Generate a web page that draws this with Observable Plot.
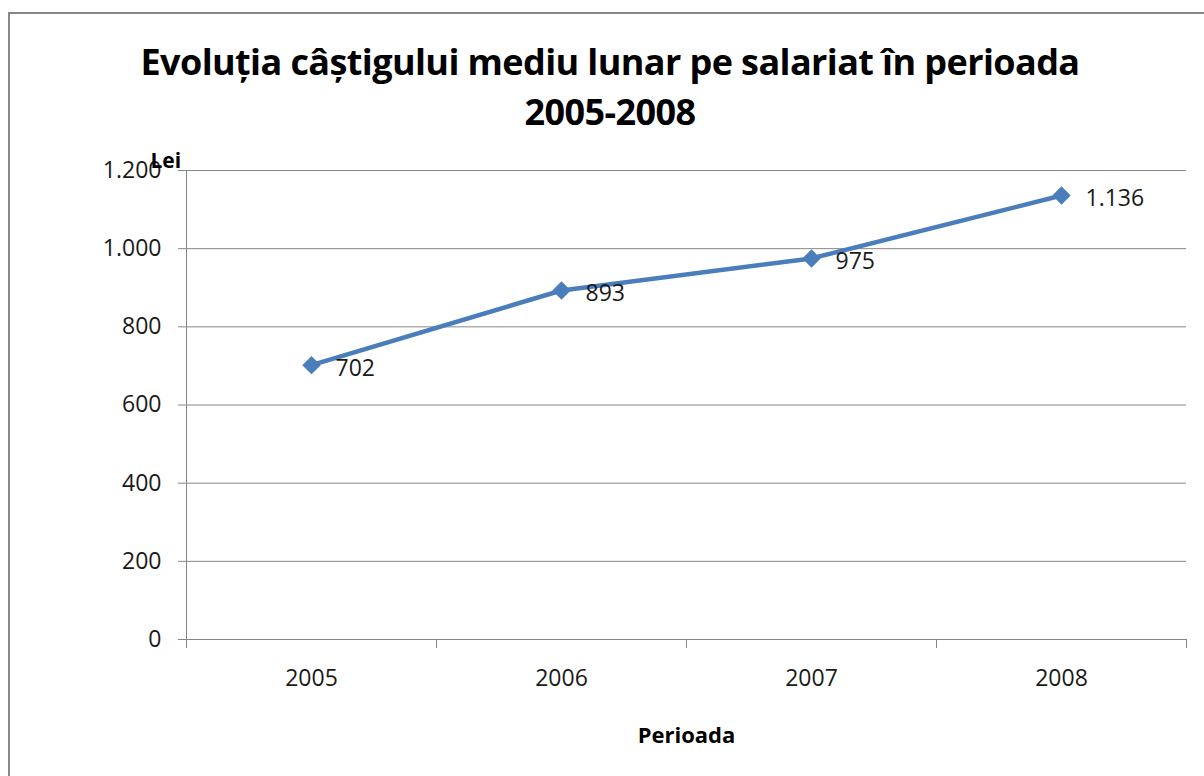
<!DOCTYPE html>
<html>
<head>
<meta charset="utf-8">
<script src="https://cdn.jsdelivr.net/npm/d3@7"></script>
<script src="https://cdn.jsdelivr.net/npm/@observablehq/plot@0.6"></script>
<style>
  html, body { margin: 0; padding: 0; background: #fff; overflow: hidden; }
  #wrap { position: relative; width: 1204px; height: 776px; font-family: "Open Sans", sans-serif; }
  #frame { position: absolute; left: 8px; top: 12px; width: 1220px; height: 800px; border: 2px solid #878787; box-sizing: border-box; }
  #title { position: absolute; left: 0; top: 0; width: 1220px; text-align: center; font-weight: 700; font-size: 36px; line-height: 50px; color: #000; padding-top: 37px; letter-spacing: -0.6px; }
  #chart { position: absolute; left: 0; top: 140px; }
</style>
</head>
<body>
<div id="wrap">
  <div id="frame"></div>
  <div id="title"><span id="t1">Evoluția câștigului mediu lunar pe salariat în perioada</span><br><span>2005-2008</span></div>
  <div id="chart"></div>
</div>
<script>
const years = ["2005", "2006", "2007", "2008"];
const values = [702, 893, 975, 1136];
const yTicks = [0, 200, 400, 600, 800, 1000, 1200];
const yLabel = "Lei";
const xLabel = "Perioada";

const data = years.map((y, i) => ({year: +y, value: values[i]}));
const fmt = d3.formatLocale({thousands: ".", grouping: [3], decimal: ","}).format(",");
const bounds = [2004.5, 2005.5, 2006.5, 2007.5, 2008.5];

const chart = Plot.plot({
  width: 1204,
  height: 636,
  marginLeft: 186,
  marginRight: 18,
  marginTop: 30,
  marginBottom: 137,
  style: {fontFamily: "Open Sans, sans-serif", fontSize: "23px", color: "#1a1a1a", background: "transparent", overflow: "visible"},
  x: {domain: [2004.5, 2008.5]},
  y: {domain: [0, 1200]},
  marks: [
    Plot.gridY(yTicks, {stroke: "#868686", strokeOpacity: 1, strokeWidth: 1}),
    Plot.ruleX([2004.5], {y1: 0, y2: 1200, stroke: "#868686"}),
    Plot.axisY(yTicks, {tickSize: 8, tickPadding: 17, tickFormat: fmt, stroke: "#868686", label: null, fontSize: 23, fill: "#1a1a1a"}),
    Plot.axisX(bounds, {tickSize: 9, tickFormat: () => "", stroke: "#868686", label: null}),
    Plot.axisX(years.map(Number), {tickSize: 0, tickPadding: 30, tickFormat: d => String(d), label: null, fontSize: 23, fill: "#1a1a1a"}),
    Plot.text([xLabel], {frameAnchor: "bottom", dy: 103, fontWeight: "bold", fontSize: 22, lineAnchor: "bottom", fill: "#000"}),
    Plot.text([yLabel], {frameAnchor: "top-left", dx: -36, dy: -3, textAnchor: "start", lineAnchor: "bottom", fontWeight: "bold", fontSize: 21, fill: "#000"}),
    Plot.line(data, {x: "year", y: "value", stroke: "#4a7ebb", strokeWidth: 4.5}),
    Plot.dot(data, {x: "year", y: "value", symbol: "diamond2", r: 8.3, fill: "#4a7ebb", stroke: "none"}),
    Plot.text(data, {x: "year", y: "value", text: d => fmt(d.value), textAnchor: "start", dx: 24, dy: 3, fontSize: 23, fill: "#1a1a1a"})
  ]
});
document.getElementById("chart").appendChild(chart);
</script>
</body>
</html>
